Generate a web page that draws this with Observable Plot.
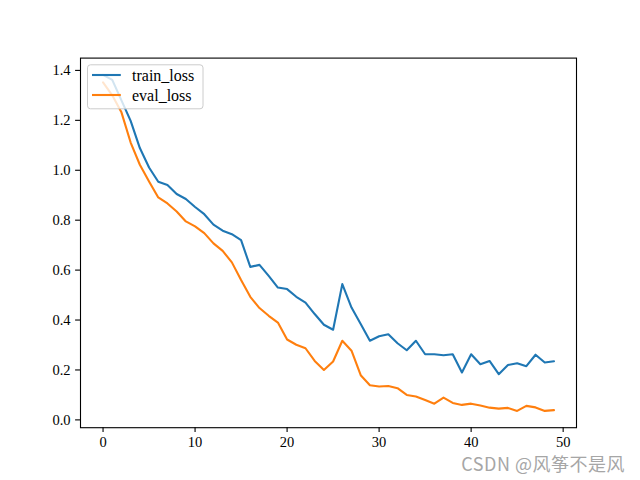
<!DOCTYPE html>
<html>
<head>
<meta charset="utf-8">
<script src="https://cdn.jsdelivr.net/npm/d3@7"></script>
<script src="https://cdn.jsdelivr.net/npm/@observablehq/plot@0.6"></script>
<style>
  body { margin: 0; background: #fff; }
  #chart { position: relative; width: 640px; height: 480px; }
</style>
</head>
<body>
<div id="chart"></div>
<script>
const seriesNames = ["train_loss", "eval_loss"];
const seriesColors = ["#1f77b4", "#ff7f0e"];
const trainLoss = [1.382, 1.362, 1.28, 1.198, 1.089, 1.011, 0.954, 0.941, 0.905, 0.885,
  0.853, 0.824, 0.782, 0.758, 0.744, 0.720, 0.613, 0.621, 0.577, 0.530,
  0.524, 0.493, 0.470, 0.424, 0.381, 0.361, 0.544, 0.450, 0.384, 0.317,
  0.335, 0.343, 0.307, 0.279, 0.317, 0.263, 0.263, 0.259, 0.263, 0.190,
  0.263, 0.223, 0.236, 0.183, 0.220, 0.227, 0.215, 0.261, 0.230, 0.235];
const evalLoss = [1.352, 1.30, 1.232, 1.111, 1.022, 0.955, 0.891, 0.867, 0.835, 0.795,
  0.775, 0.748, 0.707, 0.677, 0.631, 0.560, 0.493, 0.448, 0.417, 0.390,
  0.322, 0.301, 0.287, 0.236, 0.200, 0.234, 0.317, 0.277, 0.179, 0.139,
  0.134, 0.136, 0.127, 0.100, 0.094, 0.080, 0.065, 0.089, 0.068, 0.060,
  0.065, 0.058, 0.049, 0.045, 0.048, 0.036, 0.056, 0.050, 0.036, 0.039];
const xTicks = [0, 10, 20, 30, 40, 50];
const yTicks = [0.0, 0.2, 0.4, 0.6, 0.8, 1.0, 1.2, 1.4];
const watermark = "CSDN @风筝不是风";

const rows = [];
[trainLoss, evalLoss].forEach((arr, s) => arr.forEach((v, i) => rows.push({epoch: i, loss: v, series: seriesNames[s]})));

const n = trainLoss.length;
const xPad = (n - 1) * 0.05;
const allVals = trainLoss.concat(evalLoss);
const yMin = d3.min(allVals), yMax = d3.max(allVals);
const yPad = (yMax - yMin) * 0.05;

const FONT = "'Liberation Serif', 'DejaVu Serif', serif";

const plot = Plot.plot({
  width: 640,
  height: 480,
  marginLeft: 80,
  marginRight: 64,
  marginTop: 57.6,
  marginBottom: 52.8,
  style: {fontFamily: FONT, fontSize: "14.5px", color: "#000", background: "#fff"},
  x: {domain: [-xPad, n - 1 + xPad]},
  y: {domain: [yMin - yPad, yMax + yPad]},
  color: {domain: seriesNames, range: seriesColors},
  marks: [
    Plot.line(rows, {x: "epoch", y: "loss", stroke: "series", strokeWidth: 2.1, z: "series"}),
    Plot.frame({stroke: "#000", strokeWidth: 1.1}),
    Plot.axisX({ticks: xTicks, tickSize: 4.9, tickPadding: 4.5, tickFormat: d3.format("d"), label: null, fontSize: 14.5, strokeWidth: 1.1}),
    Plot.axisY({ticks: yTicks, tickSize: 4.9, tickPadding: 5, tickFormat: d3.format(".1f"), label: null, fontSize: 14.5, strokeWidth: 1.1})
  ]
});
document.getElementById("chart").appendChild(plot);

// legend (matplotlib-style, upper left inside axes)
const svg = d3.select(plot);
const lg = svg.append("g").attr("transform", "translate(87.5,64.8)");
lg.append("rect").attr("width", 115.5).attr("height", 44).attr("rx", 3)
  .attr("fill", "#ffffff").attr("fill-opacity", 0.8).attr("stroke", "#cccccc").attr("stroke-width", 1);
seriesNames.forEach((name, k) => {
  const cy = 10.2 + k * 20;
  lg.append("line").attr("x1", 4.5).attr("x2", 33.3).attr("y1", cy).attr("y2", cy)
    .attr("stroke", seriesColors[k]).attr("stroke-width", 2.1);
  lg.append("text").attr("x", 44.5).attr("y", cy).attr("dy", "0.35em")
    .attr("text-anchor", "start")
    .attr("font-family", FONT).attr("font-size", 16).attr("fill", "#000").text(name);
});

// watermark
svg.append("text").attr("x", 625).attr("y", 471).attr("text-anchor", "end")
  .attr("font-family", "'Noto Sans CJK SC', 'DejaVu Sans', sans-serif").attr("font-size", 18)
  .attr("letter-spacing", 0.5)
  .attr("fill", "#a6a6a6").text(watermark);
</script>
</body>
</html>
